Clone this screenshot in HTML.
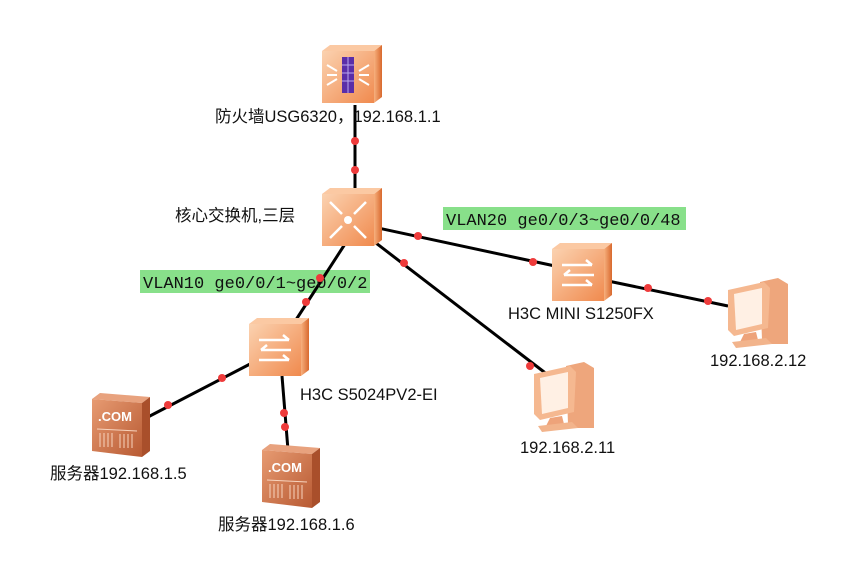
<!DOCTYPE html>
<html><head><meta charset="utf-8"><style>
html,body{margin:0;padding:0;background:#fff;}
svg{display:block;}
text{font-family:"Liberation Sans","Noto Sans CJK SC",sans-serif;font-size:16.5px;fill:#111;}
.mono{font-family:"Liberation Mono","DejaVu Sans Mono",monospace;font-size:17px;}
</style></head><body>
<svg width="844" height="562" viewBox="0 0 844 562" xmlns="http://www.w3.org/2000/svg">
<defs>
<linearGradient id="gf" x1="0" y1="0" x2="1" y2="1"><stop offset="0" stop-color="#fbd2b0"/><stop offset="1" stop-color="#f08a4e"/></linearGradient>
<linearGradient id="gs" x1="0" y1="0" x2="1" y2="0"><stop offset="0" stop-color="#f7b07e"/><stop offset="1" stop-color="#d8692e"/></linearGradient>
<linearGradient id="gsv" x1="0" y1="0" x2="1" y2="1"><stop offset="0" stop-color="#e79b72"/><stop offset="1" stop-color="#b85a33"/></linearGradient>
<g id="box">
<polygon points="0,6 8,0 60,0 52,6" fill="#fbc9a3"/>
<polygon points="52,6 60,0 60,52 52,58" fill="url(#gs)"/>
<rect x="0" y="6" width="52" height="52" fill="url(#gf)"/>
</g>
<g id="pc">
<polygon points="34,4 52,0 62,6 62,66 40,66 36,62" fill="#eea67c"/>
<polygon points="2,12 38,4 44,10 42,50 8,58 2,52" fill="#f5b890"/>
<polygon points="8,16 36,10 36,46 10,52" fill="#fff0e4"/>
<polygon points="18,56 30,54 32,62 14,64" fill="#eea37a"/>
<polygon points="6,64 40,60 46,66 10,70" fill="#f2b48c"/>
</g>
<g id="srv">
<polygon points="0,6 8,0 58,4 50,10" fill="#e8a27e"/>
<polygon points="50,10 58,4 58,58 50,64" fill="#a94f2b"/>
<polygon points="0,6 50,10 50,64 0,58" fill="url(#gsv)"/>
<text x="6" y="28" style="font-size:13px;font-weight:bold;fill:#fff">.COM</text>
<g stroke="#f7d3bd" stroke-width="1">
<line x1="5" y1="36" x2="45" y2="38"/>
<line x1="8" y1="40" x2="8" y2="54"/><line x1="12" y1="40" x2="12" y2="54"/><line x1="16" y1="40" x2="16" y2="54"/><line x1="20" y1="40" x2="20" y2="54"/>
<line x1="28" y1="41" x2="28" y2="55"/><line x1="32" y1="41" x2="32" y2="55"/><line x1="36" y1="41" x2="36" y2="55"/><line x1="40" y1="41" x2="40" y2="55"/>
</g>
</g>
<g id="arr" stroke="#fff" stroke-width="2.5" fill="none">
<path d="M10,22 H40 M34,17 L40,22"/><path d="M42,32 H12 M18,27 L12,32"/><path d="M10,42 H40 M34,37 L40,42"/>
</g>
</defs>

<rect x="443" y="207" width="243" height="23" fill="#88e08a"/>
<rect x="140" y="270" width="230" height="23" fill="#88e08a"/>

<g stroke="#000" stroke-width="3">
<line x1="355" y1="105" x2="355" y2="190"/>
<line x1="378" y1="228" x2="555" y2="266"/>
<line x1="608" y1="281" x2="728" y2="306"/>
<line x1="372" y1="240" x2="548" y2="375"/>
<line x1="345" y1="244" x2="292" y2="326"/>
<line x1="252" y1="363" x2="146" y2="418"/>
<line x1="282" y1="376" x2="288" y2="450"/>
</g>
<text class="mono" x="446" y="225">VLAN20 ge0/0/3~ge0/0/48</text>
<text class="mono" x="143" y="288">VLAN10 ge0/0/1~ge0/0/2</text>

<g fill="#ee3b3b">
<circle cx="355" cy="141" r="4"/><circle cx="355" cy="170" r="4"/>
<circle cx="418" cy="236" r="4"/><circle cx="533" cy="262" r="4"/>
<circle cx="648" cy="288" r="4"/><circle cx="708" cy="301" r="4"/>
<circle cx="404" cy="263" r="4"/><circle cx="530" cy="366" r="4"/>
<circle cx="320" cy="278" r="4"/><circle cx="306" cy="302" r="4"/>
<circle cx="222" cy="378" r="4"/><circle cx="168" cy="405" r="4"/>
<circle cx="284" cy="413" r="4"/><circle cx="285" cy="427" r="4"/>
</g>

<g transform="translate(322,45)"><use href="#box"/>
<rect x="20" y="12" width="12" height="36" fill="#5a2ea8"/>
<g stroke="#b9a6ee" stroke-width="1"><line x1="20" y1="20" x2="32" y2="20"/><line x1="20" y1="28" x2="32" y2="28"/><line x1="20" y1="36" x2="32" y2="36"/><line x1="26" y1="12" x2="26" y2="48"/></g>
<g stroke="#fff" stroke-width="2"><path d="M5,20 L15,26 M5,30 H15 M5,40 L15,34 M37,26 L47,20 M37,30 H47 M37,34 L47,40"/></g>
</g>
<g transform="translate(322,188)"><use href="#box"/>
<g stroke="#fff" stroke-width="2.5" fill="none"><path d="M8,14 L20,26 M8,50 L20,38 M44,14 L32,26 M44,50 L32,38"/></g>
<circle cx="26" cy="32" r="4" fill="#fff"/>
</g>
<g transform="translate(552,243)"><use href="#box"/><use href="#arr"/></g>
<g transform="translate(249,318)"><use href="#box"/><use href="#arr"/></g>

<use href="#pc" transform="translate(726,278)"/>
<use href="#pc" transform="translate(532,362)"/>
<use href="#srv" transform="translate(92,393)"/>
<use href="#srv" transform="translate(262,444)"/>

<text x="215" y="122">防火墙USG6320，192.168.1.1</text>
<text x="175" y="221">核心交换机,三层</text>
<text x="508" y="319">H3C MINI S1250FX</text>
<text x="300" y="400">H3C S5024PV2-EI</text>
<text x="710" y="366">192.168.2.12</text>
<text x="520" y="453">192.168.2.11</text>
<text x="50" y="479">服务器192.168.1.5</text>
<text x="218" y="530">服务器192.168.1.6</text>
</svg>
</body></html>
